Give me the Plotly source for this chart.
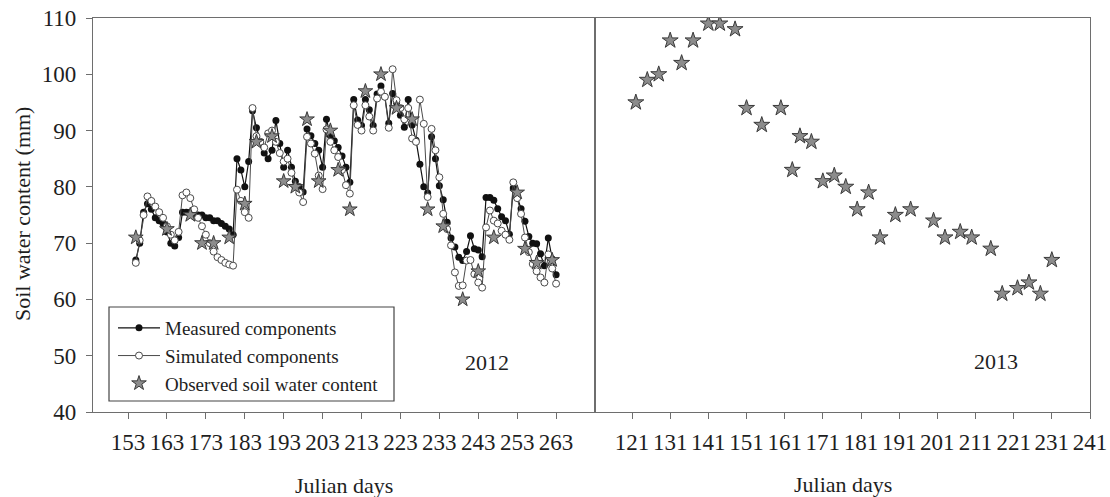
import plotly.graph_objects as go

# ---------------- data ----------------
days_2012 = list(range(155, 264))
measured_2012 = [67, 70, 75.5, 77, 76, 74.5, 74, 73.5, 72, 70,
                 69.5, 71, 75.5, 75.5, 75.5, 75.2, 75, 75, 74.5, 74.5,
                 74, 74, 73.5, 73, 72.5, 71.5, 85, 83, 80, 84.5,
                 93.5, 90.5, 88, 86, 85, 86.5, 91.8, 87.7, 83.5, 86.5,
                 83.5, 81, 80, 79.1, 90.3, 89.1, 87.7, 86.5, 83.5, 92,
                 89.1, 88.2, 87, 85.5, 83.5, 80.8, 95.5, 91.9, 90.9, 95.5,
                 93.7, 90.9, 96.5, 97.9, 96, 91.3, 96.6, 95, 92.7, 90.6,
                 95.5, 91, 88.3, 84, 80, 78.9, 88.9, 85, 80.2, 77.7,
                 73.7, 70.9, 69.3, 67.5, 66.9, 68.5, 71.3, 69, 68.8, 67.6,
                 78.1, 78.1, 77.6, 76.1, 74.7, 74, 71.6, 79.8, 78.2, 76.1,
                 73.9, 71.2, 70, 69.9, 68.1, 66, 70.9, 67.2, 64.4]
simulated_2012 = [66.5, 70.5, 75, 78.3, 77.5, 76.5, 75.5, 74.5, 73, 71.5,
                  70.5, 72, 78.5, 79, 78, 76, 74.5, 73, 71.5, 70,
                  68.5, 67.5, 67, 66.5, 66.2, 66, 79.5, 77.5, 75.5, 74.5,
                  94, 89, 88, 87, 89.5, 90, 88, 86, 84.5, 85,
                  82.5, 80, 79, 77.3, 88.9, 87.7, 85.9, 82, 79.6, 90.2,
                  88, 86.5, 85.3, 83, 80.3, 78.8, 94.5, 91, 90, 94.5,
                  92.5, 90, 95.7, 96.9, 96, 90.5, 100.9, 95.4, 94, 92,
                  94, 88.6, 88, 95.5, 91.2, 78.2, 90.3, 86.5, 81.7, 75.2,
                  72.5, 69.6, 64.8, 62.4, 62.5, 66.9, 67, 64.5, 63, 62.1,
                  72.8, 75.8, 74, 73.5, 72.2, 71.5, 70.6, 80.8, 78, 75.2,
                  71, 68.4, 66.3, 65, 63.9, 63, 68, 65.5, 62.8]
obs_days_2012 = [155, 163, 169, 172, 175, 179, 183, 186, 190, 193, 196, 199, 202, 205, 207,
                 210, 214, 218, 222, 226, 230, 234, 239, 243, 247, 253, 255, 258, 262]
obs_2012 = [71, 72.5, 75, 70, 70, 71, 77, 88, 89, 81, 80, 92, 81, 90, 83,
            76, 97, 100, 94, 92, 76, 73, 60, 65, 71, 79, 69, 66.5, 67]

obs_days_2013 = [122, 125, 128, 131, 134, 137, 141, 144, 148, 151, 155, 160, 163, 165, 168,
                 171, 174, 177, 180, 183, 186, 190, 194, 200, 203, 207, 210, 215, 218, 222,
                 225, 228, 231]
obs_2013 = [95, 99, 100, 106, 102, 106, 109, 109, 108, 94, 91, 94, 83, 89, 88,
            81, 82, 80, 76, 79, 71, 75, 76, 74, 71, 72, 71, 69, 61, 62,
            63, 61, 67]

ticks_2012 = [153, 163, 173, 183, 193, 203, 213, 223, 233, 243, 253, 263]
ticks_2013 = [121, 131, 141, 151, 161, 171, 181, 191, 201, 211, 221, 231, 241]
ticks_y = [40, 50, 60, 70, 80, 90, 100, 110]

# ---------------- figure ----------------
FONT = "Liberation Serif, Times New Roman, serif"
AXC = "#6e6e6e"
TXT = "#1e1e1e"
W, H = 1110, 497
ML, MR, MT, MB = 93, 20, 18, 85
PW = W - ML - MR
PH = H - MT - MB


def px_x(p):
    return (p - ML) / PW


def px_y(p):
    return (H - MB - p) / PH


fig = go.Figure()

fig.add_trace(go.Scatter(
    x=days_2012, y=measured_2012, mode="lines+markers", name="Measured components",
    line=dict(color="#111111", width=1.2),
    marker=dict(symbol="circle", size=7, color="#111111"),
    xaxis="x", yaxis="y"))
fig.add_trace(go.Scatter(
    x=days_2012, y=simulated_2012, mode="lines+markers", name="Simulated components",
    line=dict(color="#4a4a4a", width=1),
    marker=dict(symbol="circle", size=7, color="white", line=dict(color="#4a4a4a", width=1)),
    xaxis="x", yaxis="y"))
fig.add_trace(go.Scatter(
    x=obs_days_2012, y=obs_2012, mode="markers", name="Observed soil water content",
    marker=dict(symbol="star", size=11, color="#8c8c8c", line=dict(color="#3a3a3a", width=1)),
    xaxis="x", yaxis="y"))
fig.add_trace(go.Scatter(
    x=obs_days_2013, y=obs_2013, mode="markers", showlegend=False,
    marker=dict(symbol="star", size=12, color="#8c8c8c", line=dict(color="#3a3a3a", width=1)),
    xaxis="x2", yaxis="y2"))

split = px_x(595)
axis_common = dict(showgrid=False, zeroline=False, showline=True, linecolor=AXC, linewidth=1.2,
                   mirror=True, ticks="outside", ticklen=6, tickcolor=AXC, tickwidth=1.2,
                   tickfont=dict(family=FONT, size=23, color=TXT))

fig.update_layout(
    width=W, height=H,
    margin=dict(l=ML, r=MR, t=MT, b=MB, autoexpand=False),
    paper_bgcolor="white", plot_bgcolor="white",
    font=dict(family=FONT, color=TXT),
    xaxis=dict(domain=[0, split], range=[144, 273], tickmode="array", tickvals=ticks_2012,
               ticklabelstandoff=3, anchor="y", **axis_common),
    xaxis2=dict(domain=[split, 1], range=[111.3, 241], tickmode="array", tickvals=ticks_2013,
                ticklabelstandoff=3, anchor="y2", **axis_common),
    yaxis=dict(domain=[0, 1], range=[40, 110], tickmode="array", tickvals=ticks_y,
               ticklabelstandoff=5, anchor="x", **axis_common),
    yaxis2=dict(domain=[0, 1], range=[40, 110], matches="y", anchor="x2", showticklabels=False,
                showgrid=False, zeroline=False, showline=True, linecolor=AXC, linewidth=1.2,
                mirror=True, ticks=""),
    showlegend=True,
    legend=dict(x=px_x(113), y=px_y(309), xanchor="left", yanchor="top",
                bgcolor="rgba(0,0,0,0)", borderwidth=0, itemwidth=42,
                font=dict(family=FONT, size=19, color=TXT),
                tracegroupgap=0),
    shapes=[dict(type="rect", xref="paper", yref="paper",
                 x0=px_x(109), x1=px_x(394), y0=px_y(401), y1=px_y(307),
                 line=dict(color="#444444", width=1.2), fillcolor="rgba(0,0,0,0)")],
    annotations=[
        dict(text="2012", xref="paper", yref="paper", x=px_x(487), y=px_y(362),
             xanchor="center", yanchor="middle", showarrow=False,
             font=dict(family=FONT, size=22, color=TXT)),
        dict(text="2013", xref="paper", yref="paper", x=px_x(996), y=px_y(361),
             xanchor="center", yanchor="middle", showarrow=False,
             font=dict(family=FONT, size=22, color=TXT)),
        dict(text="Julian days", xref="paper", yref="paper", x=px_x(344), y=px_y(485),
             xanchor="center", yanchor="middle", showarrow=False,
             font=dict(family=FONT, size=22, color=TXT)),
        dict(text="Julian days", xref="paper", yref="paper", x=px_x(843), y=px_y(484),
             xanchor="center", yanchor="middle", showarrow=False,
             font=dict(family=FONT, size=22, color=TXT)),
        dict(text="Soil water content (mm)", xref="paper", yref="paper", x=px_x(22), y=px_y(214),
             xanchor="center", yanchor="middle", showarrow=False, textangle=-90,
             font=dict(family=FONT, size=22, color=TXT)),
    ],
)

fig.write_html("out.html")
